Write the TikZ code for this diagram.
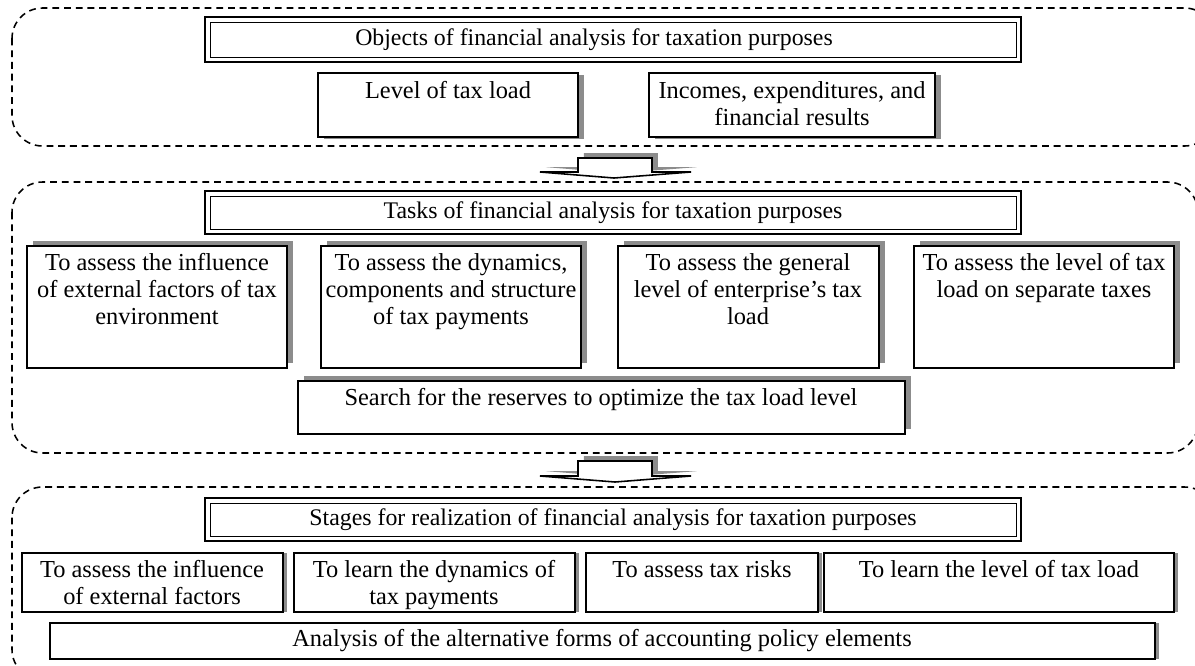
\documentclass[tikz,border=0pt]{standalone}
\usepackage{fontspec}
\setmainfont{Liberation Serif}
\usetikzlibrary{shadows}
\begin{document}
\begin{tikzpicture}[x=0.018cm,y=-0.018cm,
  frame/.style={dash pattern=on 3.5pt off 2.5pt,line width=0.8pt,rounded corners=0.55cm},
  outerline/.style={line width=1.4pt},
  innerline/.style={line width=0.5pt},
  box/.style={draw,line width=0.8pt,fill=white},
  shadowup/.style={drop shadow={shadow xshift=3pt,shadow yshift=2.5pt,fill=gray!90,opacity=1}},
  shadowside/.style={drop shadow={shadow xshift=3pt,shadow yshift=-1pt,fill=gray!90,opacity=1}},
  shadowthin/.style={drop shadow={shadow xshift=2pt,shadow yshift=0pt,fill=gray!90,opacity=1}},
  lbl/.style={anchor=north,align=center,inner sep=0pt,font=\fontsize{12.5}{13.9}\selectfont},
  ttl/.style={align=center,inner sep=0pt,font=\fontsize{12.2}{14}\selectfont}]

\path[use as bounding box,clip] (0,0) rectangle (1195,665);

% objects
\draw[frame] (12,8) rectangle (1215,146);
\draw[outerline] (205,17) rectangle (1021,62);
\draw[innerline] (210,22) rectangle (1016,57);
\node[ttl] (objects) at (594,40) {Objects of financial analysis for taxation purposes};
\draw[box,shadowside] (318,73) rectangle (578,137);
\node[lbl] (taxload) at (448,81) {Level of tax load};
\draw[box,shadowside] (649,73) rectangle (935,137);
\node[lbl] (incomes) at (792,81) {Incomes, expenditures, and\\financial results};

\draw[box,shadowup] (578,158)--(652,158)--(652,172)--(691,172)--(614,178)--(540,172)--(578,172)--cycle;

% tasks
\draw[frame] (12,182) rectangle (1198,453);
\draw[outerline] (205,191) rectangle (1021,234);
\draw[innerline] (210,196) rectangle (1016,229);
\node[ttl] (tasks) at (613,213) {Tasks of financial analysis for taxation purposes};
\draw[box,shadowup] (27,246) rectangle (287,368);
\node[lbl] (task1) at (157,253) {To assess the influence\\of external factors of tax\\environment};
\draw[box,shadowup] (321,246) rectangle (581,368);
\node[lbl] (task2) at (451,253) {To assess the dynamics,\\components and structure\\of tax payments};
\draw[box,shadowup] (618,246) rectangle (879,368);
\node[lbl] (task3) at (748,253) {To assess the general\\level of enterprise’s tax\\load};
\draw[box,shadowup] (914,246) rectangle (1174,368);
\node[lbl] (task4) at (1044,253) {To assess the level of tax\\load on separate taxes};
\draw[box,shadowup] (298,381) rectangle (905,434);
\node[lbl] (search) at (601,388) {Search for the reserves to optimize the tax load level};

\draw[box,shadowup] (578,461)--(652,461)--(652,476)--(691,476)--(615,482)--(540,476)--(578,476)--cycle;

% stages
\draw[frame] (12,487) rectangle (1215,680);
\draw[outerline] (205,498) rectangle (1021,541);
\draw[innerline] (210,503) rectangle (1016,536);
\node[ttl] (stages) at (613,520) {Stages for realization of financial analysis for taxation purposes};
\draw[box,shadowthin] (22,553) rectangle (283,612);
\node[lbl] (stage1) at (152,560) {To assess the influence\\of external factors};
\draw[box,shadowthin] (294,553) rectangle (575,612);
\node[lbl] (stage2) at (434,560) {To learn the dynamics of\\tax payments};
\draw[box,shadowthin] (586,553) rectangle (818,612);
\node[lbl] (stage3) at (702,560) {To assess tax risks};
\draw[box,shadowthin] (824,553) rectangle (1174,612);
\node[lbl] (stage4) at (999,560) {To learn the level of tax load};
\draw[box,shadowthin] (50,623) rectangle (1155,659);
\node[lbl] (analysis) at (602,629) {Analysis of the alternative forms of accounting policy elements};

\end{tikzpicture}
\end{document}
